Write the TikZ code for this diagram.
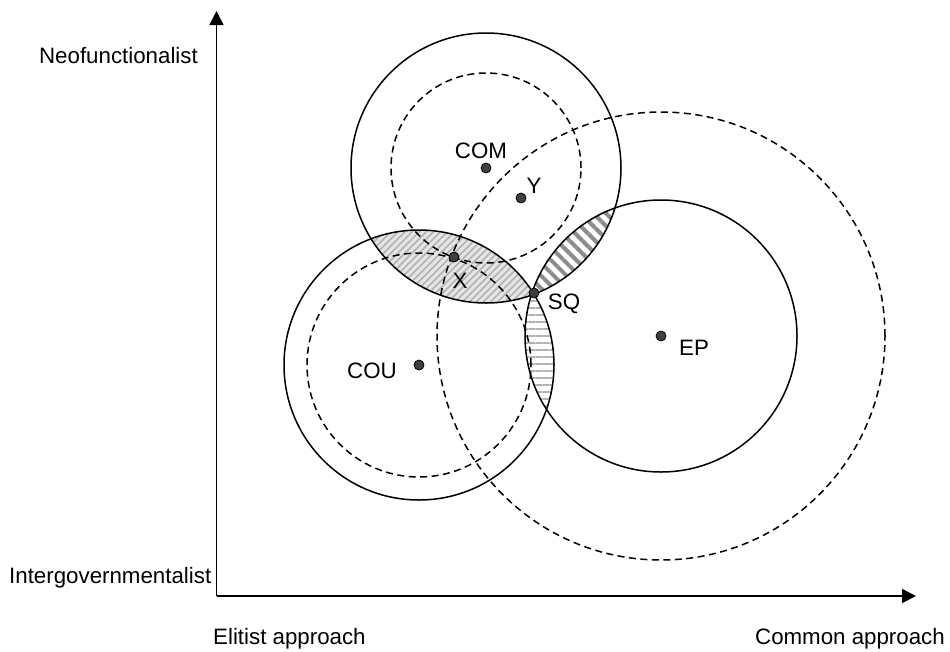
\documentclass[tikz,border=0pt]{standalone}
\usepackage{fontspec}
\setmainfont{Liberation Sans}
\usetikzlibrary{arrows.meta,patterns.meta}
\begin{document}
\begin{tikzpicture}[x=1pt,y=-1pt,
  solidc/.style={line width=1.5pt},
  dashc/.style={line width=1.5pt,dash pattern=on 7pt off 4.5pt},
  pt/.style={circle,draw=black,fill=black!75,line width=0.8pt,inner sep=0pt,minimum size=10pt},
  lbl/.style={font=\fontsize{22.3}{26}\selectfont,inner sep=0pt},
  axisarrow/.style={line width=1.5pt,-{Triangle[length=14pt,width=14pt]}},
  hatchA/.style={pattern={Lines[angle=45,distance=5pt,line width=1.6pt]},pattern color=black!30},
  hatchB/.style={pattern={Lines[angle=0,distance=7pt,line width=2.2pt]},pattern color=black!30},
  hatchC/.style={pattern={Lines[angle=-45,distance=9pt,line width=4pt]},pattern color=black!45}]
\useasboundingbox (0,0) rectangle (950,651);
% centres
\coordinate (cCOM) at (486,168);
\coordinate (cY) at (521,198);
\coordinate (cX) at (454,257);
\coordinate (cSQ) at (534,293);
\coordinate (cCOU) at (419,365);
\coordinate (cEP) at (661,336);
% hatched lenses
\begin{scope}
  \clip (cCOM) circle[radius=135pt];
  \fill[black!10] (cCOU) circle[radius=135pt];
  \fill[hatchA] (cCOU) circle[radius=135pt];
\end{scope}
\begin{scope}
  \clip (cCOU) circle[radius=135pt];
  \fill[hatchB] (cEP) circle[radius=136pt];
\end{scope}
\begin{scope}
  \clip (cCOM) circle[radius=135pt];
  \fill[hatchC] (cEP) circle[radius=136pt];
\end{scope}
% circles
\draw[solidc] (cCOM) circle[radius=135pt];
\draw[dashc] (cCOM) circle[radius=95pt];
\draw[solidc] (cCOU) circle[radius=135pt];
\draw[dashc] (cCOU) circle[radius=112pt];
\draw[solidc] (cEP) circle[radius=136pt];
\draw[dashc] (cEP) circle[radius=224pt];
% axes
\coordinate (O) at (216.5,596);
\coordinate (ytip) at (216.5,11);
\coordinate (xtip) at (916,596);
\draw[axisarrow] (O) -- (ytip);
\draw[axisarrow] (O) -- (xtip);
% points
\node[pt] (COM) at (cCOM) {};
\node[pt] (Y) at (cY) {};
\node[pt] (X) at (cX) {};
\node[pt] (SQ) at (cSQ) {};
\node[pt] (COU) at (cCOU) {};
\node[pt] (EP) at (cEP) {};
% labels
\node[lbl] (lCOM) at (481,151) {COM};
\node[lbl] (lY) at (534,186) {Y};
\node[lbl] (lX) at (460,281) {X};
\node[lbl] (lSQ) at (564,304) {SQ};
\node[lbl] (lCOU) at (372,371) {COU};
\node[lbl] (lEP) at (694,348) {EP};
\node[lbl,anchor=base east] (lNeo) at (198,63) {Neofunctionalist};
\node[lbl,anchor=base west] (lInt) at (9,583) {Intergovernmentalist};
\node[lbl,anchor=base west] (lEli) at (213,644) {Elitist approach};
\node[lbl,anchor=base east] (lCom) at (945,644) {Common approach};
\end{tikzpicture}
\end{document}
